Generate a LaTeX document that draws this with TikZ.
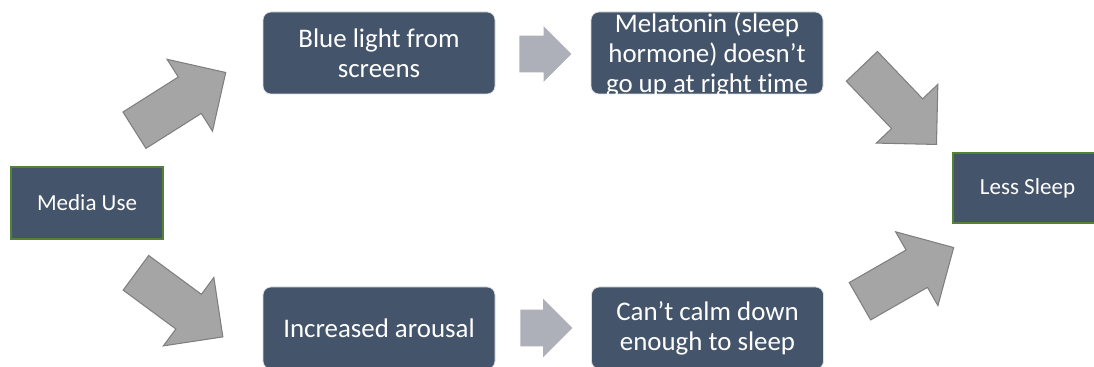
\documentclass[tikz,border=0pt]{standalone}
\usepackage{fontspec}
\setmainfont{Carlito}[Ligatures={TeX,NoCommon}]
\usepackage{xcolor}
\usepackage{tikz}
\usetikzlibrary{shapes.arrows}

\definecolor{boxblue}{RGB}{68,84,106}
\definecolor{boxgreen}{RGB}{84,130,53}
\definecolor{arrowfill}{RGB}{165,165,165}
\definecolor{arrowline}{RGB}{127,127,127}
\definecolor{stepfill}{RGB}{173,176,184}

\begin{document}
\begin{tikzpicture}[
  x=1cm,y=1cm,
  endbox/.style={draw=boxgreen,line width=0.9pt,fill=boxblue,text=white,
                 minimum width=3.04cm,minimum height=1.44cm,inner sep=0pt,
                 font=\fontsize{13.1}{15.7}\selectfont},
  midbox/.style={draw=gray!25,line width=0.4pt,fill=boxblue,text=white,
                 rounded corners=0.16cm,minimum width=4.64cm,minimum height=1.64cm,
                 inner sep=0pt,align=center,font=\fontsize{15.3}{17}\selectfont},
  midtext/.style={text=white,align=center,inner sep=0pt,
                  font=\fontsize{15.3}{17}\selectfont},
  bigarrow/.style={single arrow,draw=arrowline,fill=arrowfill,line width=0.6pt,
                   minimum height=2.16cm,inner xsep=0pt,inner ysep=0.42cm,
                   single arrow head extend=0.42cm,anchor=tail},
  steparrow/.style={single arrow,fill=stepfill,minimum height=1.04cm,
                    inner xsep=0pt,inner ysep=0.36cm,
                    single arrow head extend=0.19cm,anchor=tail}
]
\useasboundingbox (0,0) rectangle (21.88,7.34);

\node[endbox] (media) at (1.74,3.28) {Media Use};
\node[endbox,minimum width=2.98cm,minimum height=1.40cm] (less) at (20.55,3.58) {Less Sleep};

\node[midbox] (blue) at (7.58,6.28) {Blue light from\\screens};
\node[midbox] (mel) at (14.14,6.28) {};
\node[midtext] (meltext) at ([yshift=-0.04cm]mel.center) {Melatonin (sleep\\hormone) doesn’t\\go up at right time};
\node[midbox] (arousal) at (7.58,0.78) {Increased arousal};
\node[midbox] (calm) at (14.15,0.78) {Can’t calm down\\enough to sleep};

% small step arrows, placed by their tails
\node[steparrow] (s1) at (10.38,6.26) {};
\node[steparrow,single arrow head extend=0.22cm] (s2) at (10.40,0.78) {};

% big block arrows, placed by their tails
\node[bigarrow,rotate=32.3] (a1) at (2.68,4.73) {};
\node[bigarrow,rotate=-36.4] (a2) at (2.71,1.89) {};
\node[bigarrow,rotate=-46.3] (a3) at (17.23,6.02) {};
\node[bigarrow,rotate=29.8] (a4) at (17.19,1.31) {};
\end{tikzpicture}
\end{document}
